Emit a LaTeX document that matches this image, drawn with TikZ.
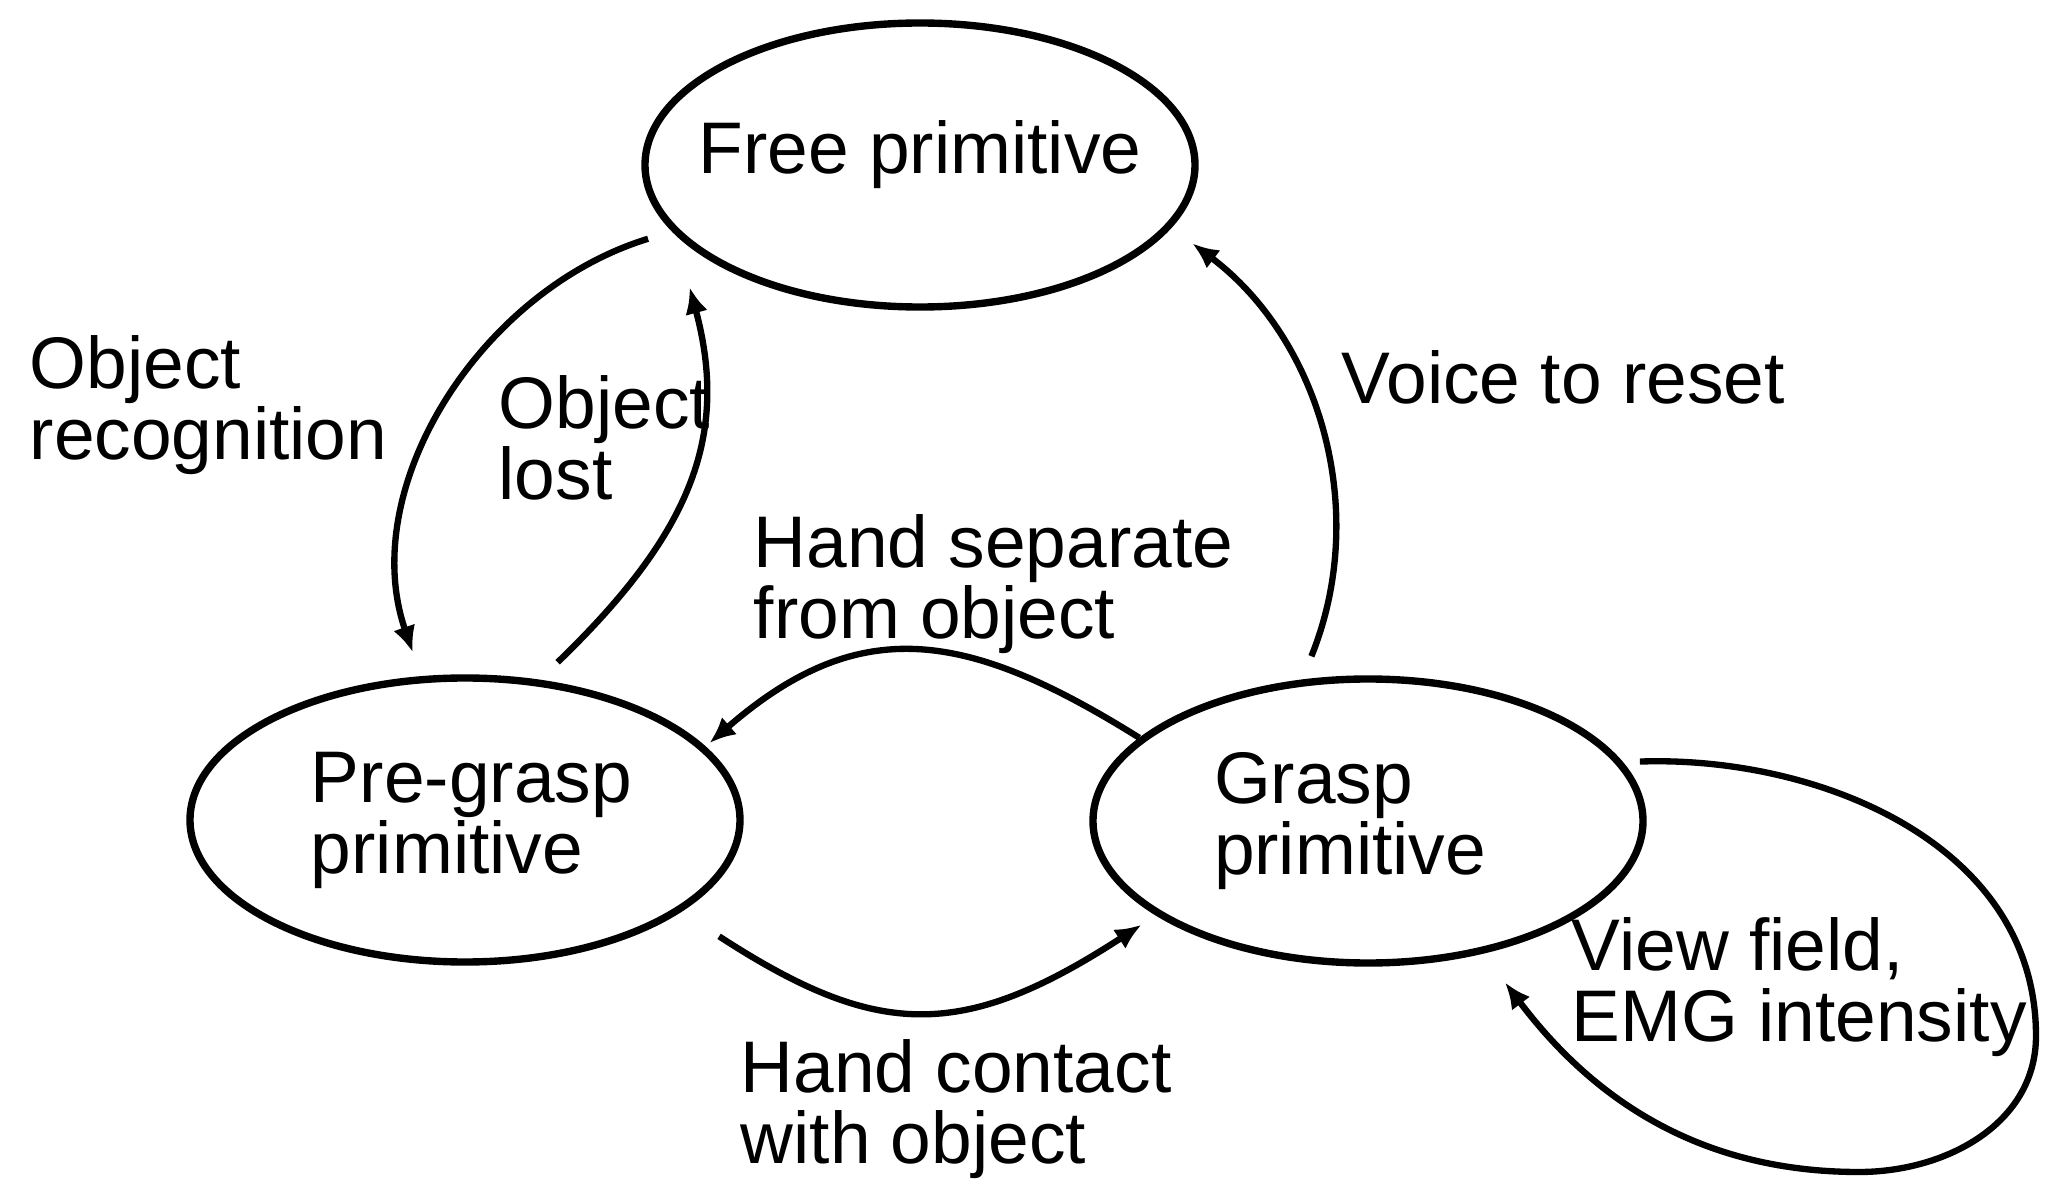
\documentclass[tikz,border=0pt]{standalone}
\usepackage{fontspec}
\setmainfont{Liberation Sans}
\usetikzlibrary{arrows.meta, shapes.geometric}

\tikzset{
	state/.style={ellipse, draw=black, line width=2.1pt, minimum width=5.5cm, minimum height=2.84cm, inner sep=0pt},
	twoline/.style={align=left, text width=3.08cm},
	lbl/.style={anchor=north west, inner sep=0pt, align=left},
	trans/.style={->, line width=1.8pt},
}

\begin{document}
\begin{tikzpicture}[>={Latex[length=7.5pt, width=6.5pt]}, font=\fontsize{20.8pt}{20.2pt}\selectfont]

	\useasboundingbox[fill=white] (0,0) rectangle (20.54,11.94);

	% Zustaende
	\node[state, inner xsep=-0.4cm, text depth=0.36cm](free) at (9.20,10.29) {Free primitive};
	\node[state, twoline](pre) at (4.65,3.74) {\mbox{Pre-grasp}\\primitive};
	\node[state, twoline](grasp) at (13.68,3.73) {Grasp\\primitive};

	\coordinate (loop_r) at (20.36,1.58);
	\coordinate (loop_b) at (18.59,0.22);

	% Beschriftungen
	\node[lbl](recog) at (0.29,8.59) {Object\\recognition};
	\node[lbl](lost) at (4.98,8.19) {Object\\lost};
	\node[lbl](reset) at (13.41,8.44) {Voice to reset};
	\node[lbl](separate) at (7.53,6.80) {Hand separate\\from object};
	\node[lbl](contact) at (7.40,1.55) {Hand contact\\with object};
	\node[lbl](view) at (15.71,2.77) {View field,\\EMG intensity};

	% Uebergaenge
	\draw[trans, shorten <=0.25cm, shorten >=0.25cm] (free.195) to[out=197, in=109] (pre.107);
	\draw[trans, shorten <=0.25cm, shorten >=0.54cm] (pre.62) to[out=44, in=-75, looseness=1.15] (free.196);
	\draw[trans, shorten <=0.25cm, shorten >=0.26cm] (grasp.115) to[out=68, in=-37] (free.-14);
	\draw[trans, shorten >=0.05cm] (grasp.160) to[out=148, in=41, looseness=1.2] (pre.17);
	\draw[trans, shorten <=0.45cm, shorten >=0.17cm] (pre.-23) to[out=-33, in=213, looseness=1.25] (grasp.204);

	% Schleife
	\draw[trans, shorten <=0.17cm, shorten >=0.36cm] (grasp.13) to[out=2, in=90] (loop_r) to[out=-90, in=0] (loop_b) to[out=180, in=-53] (grasp.-49);
\end{tikzpicture}
\end{document}
